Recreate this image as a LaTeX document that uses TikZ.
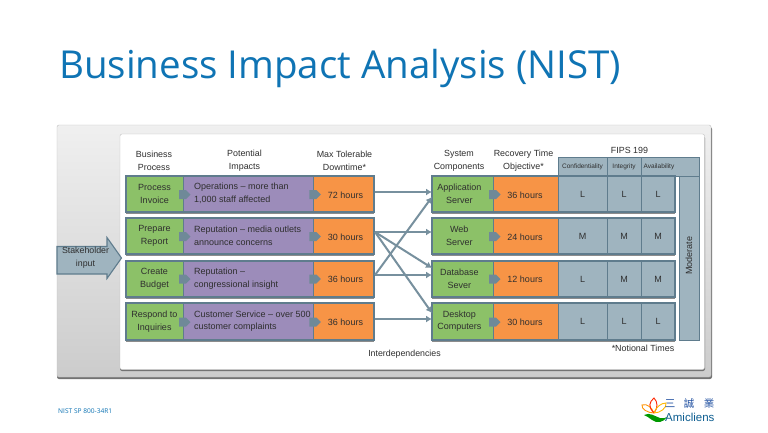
\documentclass[tikz,border=0pt]{standalone}
\usepackage{fontspec}
\setmainfont{Liberation Sans}
\newfontfamily\titlefont{Open Sans}
\newfontfamily\cjkfont{Noto Sans CJK TC}
\usetikzlibrary{calc,arrows.meta}
\definecolor{edgeC}{HTML}{5F7C8D}
\definecolor{greenC}{HTML}{8CC168}
\definecolor{purpleC}{HTML}{9C8CBA}
\definecolor{orangeC}{HTML}{F79446}
\definecolor{slateC}{HTML}{9FB4BF}
\definecolor{titleC}{HTML}{0F74B4}
\definecolor{inkC}{HTML}{2F2F2F}
\definecolor{logoC}{HTML}{1F4FA0}
\tikzset{
  cellbase/.style={inner sep=0pt,align=center,text=inkC,font=\fontsize{9}{12.6}\selectfont},
  greencell/.style={cellbase,fill=greenC},
  purplecell/.style={cellbase,fill=purpleC},
  orangecell/.style={cellbase,fill=orangeC},
  slatecell/.style={cellbase,fill=slateC,draw=edgeC,line width=.9pt},
  labeltext/.style={inner sep=0pt,align=center,text=inkC,font=\fontsize{9}{12.6}\selectfont},
  headtext/.style={inner sep=0pt,align=center,text=inkC,font=\fontsize{8.9}{12.8}\selectfont},
  lefttext/.style={inner sep=0pt,align=left,anchor=west,text=inkC,font=\fontsize{9}{12.6}\selectfont},
  fipstext/.style={inner sep=0pt,text=inkC,font=\fontsize{6.5}{8}\selectfont},
  logotext/.style={inner sep=0pt,text=logoC,font=\cjkfont\fontsize{10.5}{11}\selectfont},
  link/.style={draw=edgeC!85!white,line width=2pt,-{Latex[length=6pt,width=7pt]}},
}
\newcommand{\cellbox}[7]{%
  \pgfmathsetmacro\cw{#4-#2}\pgfmathsetmacro\ch{#5-#3}%
  \node[#6,minimum width=\cw pt,minimum height=\ch pt] (#1) at ({(#2+#4)/2},{(#3+#5)/2}) {#7};}
\newcommand{\chevron}[2]{%
  \fill[edgeC!90!white] (#1-4,#2-4.5) -- (#1+3,#2-4.5) -- (#1+7.5,#2) -- (#1+3,#2+4.5) -- (#1-4,#2+4.5) -- cycle;}
\begin{document}
\begin{tikzpicture}[x=1pt,y=-1pt]
\useasboundingbox (0,0) rectangle (768,432);
\fill[white] (0,0) rectangle (768,432);
% title
\node[inner sep=0pt,anchor=base west,text=titleC,font=\titlefont\fontsize{38.5}{40}\selectfont] (title) at (59,78) {Business Impact Analysis (NIST)};
% panels
\fill[rounded corners=2pt,black!55] (57,127) rectangle (712,379);
\shade[rounded corners=2pt,top color=black!6,bottom color=black!20,draw=black!25] (57,125) rectangle (711,377);
\fill[rounded corners=2pt,black!55] (120,136) rectangle (705,371);
\fill[rounded corners=2pt,white,draw=black!25] (120,134) rectangle (704.5,369.5);
% stakeholder arrow
\path[fill=slateC,draw=edgeC,line width=1.1pt] (57,246.5) -- (107,246.5) -- (107,237.5) -- (121.5,258) -- (107,278.5) -- (107,274) -- (57,274) -- cycle;
\node[labeltext,font=\fontsize{8.8}{12.6}\selectfont] (stake) at (85.5,257.5) {Stakeholder\\input};
% headers
\node[headtext] (h1) at (154,160.5) {Business\\Process};
\node[headtext] (h2) at (244.5,160.5) {Potential\\Impacts};
\node[headtext] (h3) at (344.5,160.5) {Max Tolerable\\Downtime*};
\node[headtext] (h4) at (459,160.5) {System\\Components};
\node[headtext] (h5) at (523.5,160.5) {Recovery Time\\Objective*};
\node[headtext] (h6) at (629.5,150) {FIPS 199};
% left rows
\cellbox{g1}{126}{176}{183}{212}{greencell}{Process\\Invoice}
\cellbox{g2}{126}{218}{183}{254}{greencell}{Prepare\\Report}
\cellbox{g3}{126}{261}{183}{297}{greencell}{Create\\Budget}
\cellbox{g4}{126}{303}{183}{340}{greencell}{Respond to\\Inquiries}
\cellbox{p1}{183}{176}{313}{212}{purplecell}{}
\cellbox{p2}{183}{218}{313}{254}{purplecell}{}
\cellbox{p3}{183}{261}{313}{297}{purplecell}{}
\cellbox{p4}{183}{303}{313}{340}{purplecell}{}
\cellbox{o1}{313}{176}{374}{212}{orangecell}{}
\cellbox{o2}{313}{218}{374}{254}{orangecell}{}
\cellbox{o3}{313}{261}{374}{297}{orangecell}{}
\cellbox{o4}{313}{303}{374}{340}{orangecell}{}
\node[labeltext] (ot1) at (345.5,195) {72 hours};
\node[labeltext] (ot2) at (345.5,237) {30 hours};
\node[labeltext] (ot3) at (345.5,279.5) {36 hours};
\node[labeltext] (ot4) at (345.5,322) {36 hours};
\node[lefttext] (t1) at (194,193.5) {Operations -- more than\\1,000 staff affected};
\node[lefttext] (t2) at (194,236) {Reputation -- media outlets\\announce concerns};
\node[lefttext] (t3) at (194,278.5) {Reputation --\\congressional insight};
\node[lefttext] (t4) at (194,321) {Customer Service -- over 500\\customer complaints};
% right rows
\cellbox{a1}{432}{176}{493}{212}{greencell}{}
\cellbox{a2}{432}{218}{493}{254}{greencell}{}
\cellbox{a3}{432}{261}{493}{297}{greencell}{}
\cellbox{a4}{432}{303}{493}{340}{greencell}{}
\node[labeltext] (at1) at (459.3,193.5) {Application\\Server};
\node[labeltext] (at2) at (459.3,236) {Web\\Server};
\node[labeltext] (at3) at (459.3,278.5) {Database\\Sever};
\node[labeltext] (at4) at (459.3,321) {Desktop\\Computers};
\cellbox{r1}{493}{176}{558}{212}{orangecell}{}
\cellbox{r2}{493}{218}{558}{254}{orangecell}{}
\cellbox{r3}{493}{261}{558}{297}{orangecell}{}
\cellbox{r4}{493}{303}{558}{340}{orangecell}{}
\node[labeltext] (rt1) at (525,195) {36 hours};
\node[labeltext] (rt2) at (525,237) {24 hours};
\node[labeltext] (rt3) at (525,279.5) {12 hours};
\node[labeltext] (rt4) at (525,322) {30 hours};
% FIPS
\cellbox{fh}{558}{157}{699}{176}{slatecell}{}
\node[fipstext,draw=edgeC,line width=.9pt,minimum width=49pt,minimum height=19pt] (fc) at (582.5,166.5) {Confidentiality};
\node[fipstext,draw=edgeC,line width=.9pt,minimum width=34pt,minimum height=19pt] (fi) at (624,166.5) {Integrity};
\node[fipstext] (fa) at (659,167) {Availability};
\cellbox{c11}{558}{176}{607}{212}{slatecell}{L}
\cellbox{c12}{607}{176}{641}{212}{slatecell}{L}
\cellbox{c13}{641}{176}{675}{212}{slatecell}{L}
\cellbox{c21}{558}{218}{607}{254}{slatecell}{M}
\cellbox{c22}{607}{218}{641}{254}{slatecell}{M}
\cellbox{c23}{641}{218}{675}{254}{slatecell}{M}
\cellbox{c31}{558}{261}{607}{297}{slatecell}{L}
\cellbox{c32}{607}{261}{641}{297}{slatecell}{M}
\cellbox{c33}{641}{261}{675}{297}{slatecell}{M}
\cellbox{c41}{558}{303}{607}{340}{slatecell}{L}
\cellbox{c42}{607}{303}{641}{340}{slatecell}{L}
\cellbox{c43}{641}{303}{675}{340}{slatecell}{L}
\cellbox{mod}{679}{176}{699}{340}{slatecell}{}
\node[rotate=90,inner sep=0pt,text=inkC,font=\fontsize{9}{12}\selectfont] (modt) at (689,255.5) {Moderate};
% frames
\foreach \ya/\yb in {176/212,218/254,261/297,303/340}{
  \draw[edgeC,line width=1.3pt] (126,\ya) rectangle (374,\yb);
  \draw[edgeC,line width=1.3pt] (432,\ya) rectangle (675,\yb);
  \draw[black!45,line width=1.4pt] (126,\yb+1.2) -- (374,\yb+1.2);
  \draw[black!45,line width=1.4pt] (432,\yb+1.2) -- (675,\yb+1.2);
  \draw[edgeC,line width=1pt] (183,\ya) -- (183,\yb) (313,\ya) -- (313,\yb) (493,\ya) -- (493,\yb) (558,\ya) -- (558,\yb);
}
% chevrons
\foreach \y in {194.5,236.5,279,322}{
  \chevron{183}{\y}
  \chevron{313.3}{\y}
  \chevron{493}{\y}
}
% connector ports
\coordinate (s1) at (375,192);
\coordinate (s2) at (375,232);
\coordinate (s3) at (375,275);
\coordinate (s4) at (375,319);
\coordinate (e1) at (432,192);
\coordinate (e1b) at (432,197);
\coordinate (e2) at (432,232);
\coordinate (e3) at (432,268);
\coordinate (e3b) at (432,275);
\coordinate (e4) at (432,313);
\coordinate (e4b) at (432,319);
\draw[link] (s1) -- (e1);
\draw[link] (s2) -- (e2);
\draw[link] (s2) -- (e3);
\draw[link] (s2) -- (e4);
\draw[link] (s3) -- (e1b);
\draw[link] (s3) -- (e3b);
\draw[link] (s4) -- (e4b);
% notes
\node[inner sep=0pt,text=inkC,font=\fontsize{8.8}{10}\selectfont] (inter) at (404.5,354) {Interdependencies};
\node[inner sep=0pt,text=inkC,font=\fontsize{8.9}{10}\selectfont] (noti) at (643,348) {*Notional Times};
% footer
\node[inner sep=0pt,anchor=west,text=titleC,font=\titlefont\fontsize{6.6}{8}\selectfont] (foot) at (58,411) {NIST SP 800-34R1};
% logo
\draw[line width=.9pt,draw=orange!85!yellow] (654,413) .. controls (648,413) and (641,409) .. (642,405) .. controls (647,403) and (652,408) .. (654,413);
\draw[line width=.9pt,draw=red!70!orange] (654,413) .. controls (648,407) and (649,402) .. (654,398) .. controls (658,402) and (658,408) .. (654,413);
\draw[line width=.9pt,draw=orange!55!yellow] (654,413) .. controls (656,407) and (661,403) .. (666,403) .. controls (667,408) and (660,413) .. (654,413);
\fill[green!60!black] (644,415) .. controls (650,412) and (654,416) .. (660,418) .. controls (663,419) and (665,418) .. (667,417) .. controls (664,422) and (657,424) .. (652,420) .. controls (649,418) and (647,416) .. (644,415) -- cycle;
\node[logotext] (zh1) at (670,403.5) {三};
\node[logotext] (zh2) at (689,403.5) {誠};
\node[logotext] (zh3) at (709,403.5) {業};
\node[inner sep=0pt,anchor=west,text=titleC!80!black,font=\fontsize{11.5}{12}\selectfont] (brand) at (665,417) {Amicliens};
\end{tikzpicture}
\end{document}
